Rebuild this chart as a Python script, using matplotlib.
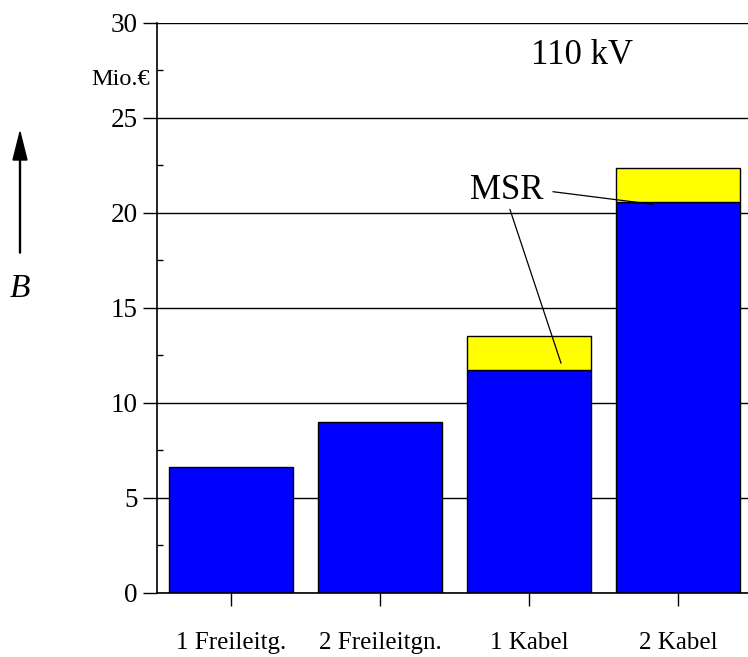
import numpy as np
import matplotlib.pyplot as plt
from matplotlib.ticker import MultipleLocator

plt.rcParams['font.family'] = ['Liberation Serif', 'DejaVu Serif']

# Daten
kategorien = ['1 Freileitg.', '2 Freileitgn.', '1 Kabel', '2 Kabel']
basis = [6.62, 9.0, 11.7, 20.55]
msr = [0.0, 0.0, 1.8, 1.8]

x = np.arange(len(kategorien))

fig = plt.figure(figsize=(7.48, 6.57), dpi=100)
ax = fig.add_axes([157 / 748, 1 - 592.5 / 657, 1 - 157 / 748, (592.5 - 23) / 657])

ax.set_axisbelow(True)
ax.yaxis.grid(True, color='black', linewidth=1.0)
ax.bar(x, basis, width=0.83, color='#0000ff', edgecolor='black', linewidth=1.0)
ax.bar(x[2:], msr[2:], bottom=basis[2:], width=0.83, color='#ffff00',
       edgecolor='black', linewidth=1.0)

ax.set_xlim(-0.497, 3.47)
ax.set_ylim(0, 30)
ax.yaxis.set_major_locator(MultipleLocator(5))
ax.yaxis.set_minor_locator(MultipleLocator(2.5))
ax.set_xticks(x)
ax.set_xticklabels(kategorien, fontsize=18)
ax.tick_params(axis='y', which='major', direction='out', length=10, width=1,
               labelsize=19.5, pad=4)
ax.tick_params(axis='y', which='minor', direction='in', length=4.3, width=1)
ax.tick_params(axis='x', direction='out', length=9.5, width=1, pad=19)

for s in ['top', 'right']:
    ax.spines[s].set_visible(False)
ax.spines['left'].set_linewidth(1.2)
ax.spines['bottom'].set_linewidth(1.2)

# Beschriftungen
ax.text(2.356, 28.3, '110 kV', fontsize=25, ha='center', va='center')
ax.text(-0.012, 27.0, 'Mio.€', transform=ax.get_yaxis_transform(),
        fontsize=17.5, ha='right', va='center')

ax.annotate('MSR', xy=(2.83, 20.45), xytext=(1.85, 21.2), fontsize=25,
            ha='center', va='center',
            arrowprops=dict(arrowstyle='-', color='black', lw=0.9,
                            shrinkA=0, shrinkB=0, relpos=(1.13, 0.45)))
ax.annotate('', xy=(2.215, 12.08), xytext=(1.872, 20.18),
            arrowprops=dict(arrowstyle='-', color='black', lw=0.9,
                            shrinkA=0, shrinkB=0))

# Pfeil und Formelzeichen B
fig.patches.append(plt.matplotlib.patches.FancyArrow(
    20 / 748, 1 - 253 / 657, 0, (253 - 132) / 657, width=0.0013,
    head_width=14 / 748, head_length=28 / 657, length_includes_head=True,
    color='black', transform=fig.transFigure))
fig.text(20 / 748, 1 - 289 / 657, 'B', fontsize=24, style='italic',
         ha='center', va='center')

fig.savefig('out.png', dpi=100)
